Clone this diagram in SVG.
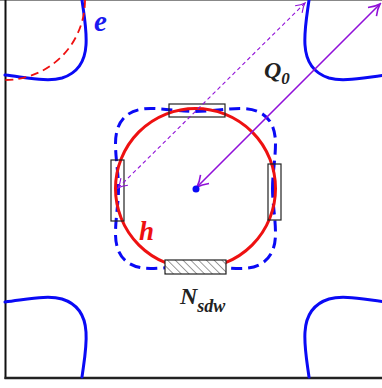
<svg xmlns="http://www.w3.org/2000/svg" width="382" height="388" viewBox="0 0 382 388">
<style>
.blue{fill:none;stroke:#0a0af5;stroke-width:3;stroke-linecap:round}
.bdash{fill:none;stroke:#0a0af5;stroke-width:3;stroke-dasharray:11 6}
.red{fill:none;stroke:#ee1111;stroke-width:3}
.rdash{fill:none;stroke:#ee1111;stroke-width:1.8;stroke-dasharray:8 5}
.box{fill:none;stroke:#222;stroke-width:1.2}
.arr{fill:none;stroke:#9010d8;stroke-width:1.6}
.arrd{fill:none;stroke:#9010d8;stroke-width:1.1;stroke-dasharray:4 3}
.lbl{font-family:"Liberation Serif","Times New Roman",serif;font-weight:bold;font-style:italic}
</style>
<defs>
<pattern id="hatch" patternUnits="userSpaceOnUse" width="5.5" height="5.5" patternTransform="rotate(-45)">
<line x1="0" y1="0" x2="0" y2="5.5" stroke="#222" stroke-width="0.9"/>
</pattern>
<marker id="ah" markerUnits="userSpaceOnUse" viewBox="-13 -8 15 16" refX="0" refY="0" markerWidth="15" markerHeight="16" orient="auto-start-reverse">
<path d="M-11,-6 Q-5,-1.5 0,0 Q-5,1.5 -11,6" fill="none" stroke="#9010d8" stroke-width="1.6"/>
</marker>
<marker id="ahs" markerUnits="userSpaceOnUse" viewBox="-11 -7 13 14" refX="0" refY="0" markerWidth="13" markerHeight="14" orient="auto-start-reverse">
<path d="M-9,-5 Q-4,-1.2 0,0 Q-4,1.2 -9,5" fill="none" stroke="#9010d8" stroke-width="1.1"/>
</marker>
<path id="pocket" d="M82,0 C84,15 87,30 86,45 C85,62 78,73 62,78 C48,82 30,78 5,75"/>
</defs>
<g id="frame">
<line x1="0" y1="0.5" x2="382" y2="0.5" stroke="#888" stroke-width="1"/>
<line x1="5.5" y1="0" x2="5.5" y2="379" stroke="#111" stroke-width="2"/>
<line x1="4.5" y1="378" x2="382" y2="378" stroke="#222" stroke-width="2.5"/>
</g>
<g id="e-pockets">
<use href="#pocket" class="blue"/>
<use href="#pocket" class="blue" transform="matrix(-1,0,0,1,391,0)"/>
<use href="#pocket" class="blue" transform="matrix(1,0,0,-1,0,377)"/>
<use href="#pocket" class="blue" transform="matrix(-1,0,0,-1,391,377)"/>
</g>
<g id="shifted-h">
<path class="rdash" d="M85,0 A80,80 0 0 1 5,80"/>
</g>
<g id="reconstructed">
<path class="bdash" transform="translate(195.5,188.5)" d="M77,0 C77,-15 80,-30 80,-45 C80,-68 68,-80 45,-80 C30,-80 15,-77 0,-77 C-15,-77 -30,-80 -45,-80 C-68,-80 -80,-68 -80,-45 C-80,-30 -77,-15 -77,0 C-77,15 -80,30 -80,45 C-80,68 -68,80 -45,80 C-30,80 -15,77 0,77 C15,77 30,80 45,80 C68,80 80,68 80,45 C80,30 77,15 77,0 Z"/>
</g>
<g id="h-pocket">
<circle class="red" cx="195.5" cy="188.5" r="80"/>
</g>
<g id="gap-top"><rect class="box" x="169" y="104" width="56" height="13"/></g>
<g id="gap-left"><rect class="box" x="111" y="160" width="13" height="61"/></g>
<g id="gap-right"><rect class="box" x="268" y="164" width="13" height="56" stroke="#555"/></g>
<g id="gap-bottom">
<rect x="165" y="260" width="61" height="14" fill="#fff"/>
<rect x="165" y="260" width="61" height="14" fill="url(#hatch)"/>
<rect class="box" x="165" y="260" width="61" height="14"/>
</g>
<g id="connectors">
<line class="arr" x1="197" y1="187" x2="380" y2="4" marker-start="url(#ah)" marker-end="url(#ah)"/>
<line class="arrd" x1="118" y1="188" x2="305" y2="3" marker-start="url(#ahs)" marker-end="url(#ahs)"/>
</g>
<g id="center-dot"><circle cx="196" cy="189" r="3.5" fill="#0a0af5"/></g>
<g id="labels">
<text class="lbl" x="94" y="31" font-size="29" fill="#1a1af0">e</text>
<text class="lbl" x="139" y="240" font-size="27" fill="#ee1111">h</text>
<text class="lbl" x="264" y="78" font-size="24" fill="#222">Q<tspan font-size="17" dy="6">0</tspan></text>
<text class="lbl" x="180" y="304" font-size="24" fill="#222">N<tspan font-size="18" dy="8">sdw</tspan></text>
</g>
</svg>
